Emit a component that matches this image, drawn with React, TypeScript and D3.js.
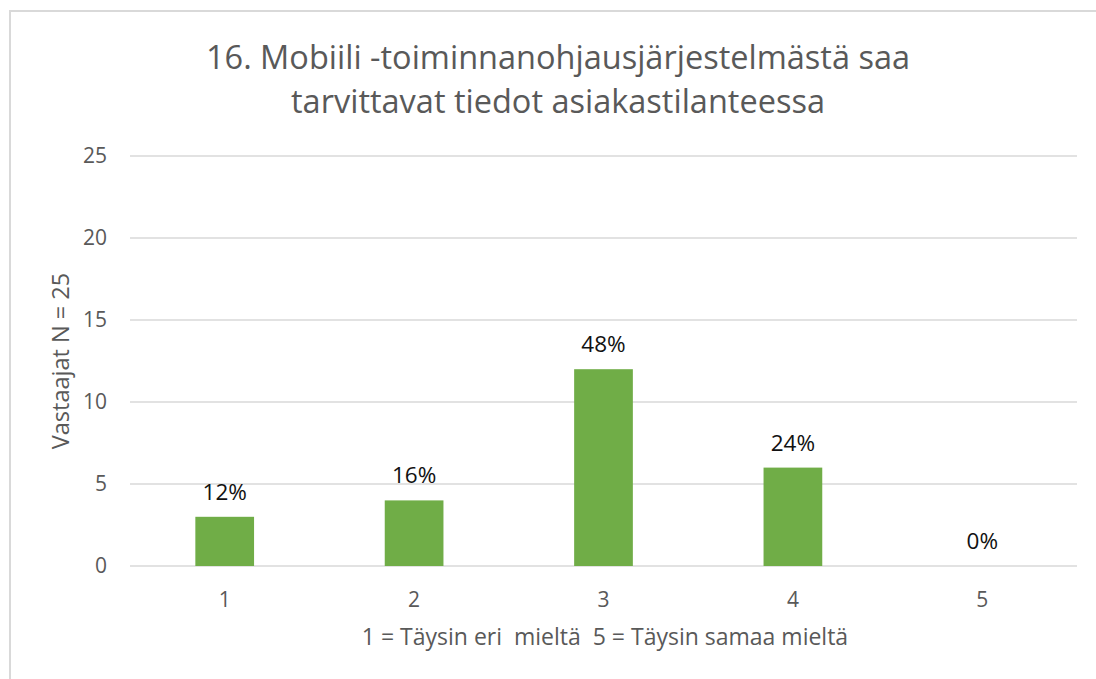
import React, { useEffect, useRef } from 'react'
import * as d3 from 'd3'

// chart data
const categories = ['1', '2', '3', '4', '5']
const counts = [3, 4, 12, 6, 0]
const percentLabels = ['12%', '16%', '48%', '24%', '0%']
const yTicks = [0, 5, 10, 15, 20, 25]

const titleLines = ['16. Mobiili -toiminnanohjausjärjestelmästä saa', 'tarvittavat tiedot asiakastilanteessa']
const yTitle = 'Vastaajat N = 25'
const xTitle = '1 = Täysin eri  mieltä  5 = Täysin samaa mieltä'

const width = 1096
const height = 679
const font = '"Open Sans", Lato, sans-serif'

export default function App() {
  const ref = useRef<SVGSVGElement>(null)

  useEffect(() => {
    const svg = d3.select(ref.current)
    svg.selectAll('*').remove()

    // outer chart border
    svg.append('rect')
      .attr('x', 10).attr('y', 11)
      .attr('width', width + 20).attr('height', height + 20)
      .attr('fill', '#fff')
      .attr('stroke', '#d9d9d9')
      .attr('stroke-width', 2)

    const left = 130, right = 1077, top = 156, bottom = 566

    var x = d3.scaleBand()
      .domain(categories)
      .range([left, right])
      .paddingInner(0.69)
      .paddingOuter(0.345)

    var y = d3.scaleLinear()
      .domain([0, 25])
      .range([bottom, top])

    // gridlines
    svg.selectAll('.grid')
      .data(yTicks)
      .enter()
      .append('line')
      .attr('x1', left).attr('x2', right)
      .attr('y1', d => y(d)).attr('y2', d => y(d))
      .attr('stroke', '#d9d9d9')
      .attr('stroke-width', 1.3)

    // y tick labels
    svg.selectAll('.ytick')
      .data(yTicks)
      .enter()
      .append('text')
      .text(d => d)
      .attr('x', 107)
      .attr('y', d => y(d))
      .attr('dy', '0.35em')
      .attr('text-anchor', 'end')
      .style('font-family', font)
      .style('font-size', '21px')
      .attr('fill', '#595959')

    // bars
    svg.selectAll('.bar')
      .data(counts)
      .enter()
      .append('rect')
      .attr('x', (d, i) => x(categories[i])!)
      .attr('y', d => y(d))
      .attr('width', x.bandwidth())
      .attr('height', d => bottom - y(d))
      .attr('fill', '#70ad47')

    // value labels
    svg.selectAll('.label')
      .data(counts)
      .enter()
      .append('text')
      .text((d, i) => percentLabels[i])
      .attr('x', (d, i) => x(categories[i])! + x.bandwidth() / 2)
      .attr('y', d => y(d) - 17)
      .attr('text-anchor', 'middle')
      .style('font-family', font)
      .style('font-size', '22.5px')
      .attr('fill', '#111')

    // x tick labels
    svg.selectAll('.xtick')
      .data(categories)
      .enter()
      .append('text')
      .text(d => d)
      .attr('x', d => x(d)! + x.bandwidth() / 2)
      .attr('y', 600)
      .attr('dy', '0.35em')
      .attr('text-anchor', 'middle')
      .style('font-family', font)
      .style('font-size', '21px')
      .attr('fill', '#595959')

    // title
    svg.selectAll('.title')
      .data(titleLines)
      .enter()
      .append('text')
      .text(d => d)
      .attr('x', 558)
      .attr('y', (d, i) => 58 + i * 44)
      .attr('dy', '0.35em')
      .attr('text-anchor', 'middle')
      .style('font-family', font)
      .style('font-size', '32.5px')
      .attr('fill', '#595959')

    // axis titles
    svg.append('text')
      .text(yTitle)
      .attr('transform', 'translate(61,' + (top + bottom) / 2 + ') rotate(-90)')
      .attr('dy', '0.35em')
      .attr('text-anchor', 'middle')
      .style('font-family', font)
      .style('font-size', '23.5px')
      .attr('fill', '#595959')

    svg.append('text')
      .text(xTitle)
      .attr('x', 605)
      .attr('y', 637)
      .attr('dy', '0.35em')
      .attr('text-anchor', 'middle')
      .style('font-family', font)
      .style('font-size', '23px')
      .style('white-space', 'pre')
      .attr('fill', '#595959')
  }, [])

  return (
    <svg ref={ref} width={width} height={height}
      style={{ position: 'absolute', left: 0, top: 0, background: '#fff' }} />
  )
}
